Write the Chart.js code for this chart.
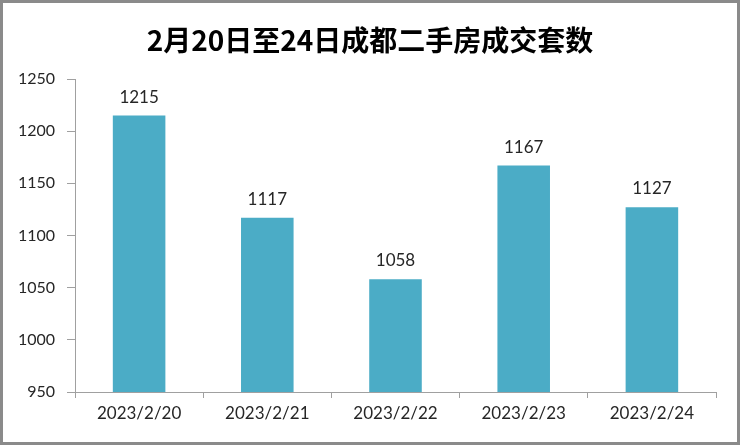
<!DOCTYPE html>
<html>
<head>
<meta charset="utf-8">
<script src="https://cdn.jsdelivr.net/npm/chart.js@4"></script>
<style>
  html, body { margin: 0; padding: 0; background: #fff; }
  #wrap { width: 740px; height: 445px; position: relative; }
</style>
</head>
<body>
<div id="wrap"><canvas id="myChart" width="740" height="445"></canvas></div>
<script>
// data
const titleText = '2月20日至24日成都二手房成交套数'
const categories = ['2023/2/20', '2023/2/21', '2023/2/22', '2023/2/23', '2023/2/24']
const salesCount = [1215, 1117, 1058, 1167, 1127]
const yTicks = [950, 1000, 1050, 1100, 1150, 1200, 1250]

const fontFamily = 'Lato, "Noto Sans", sans-serif'
const axisGray = '#a0a0a0'

// outer frame + title
const framePlugin = {
    id: 'frame',
    afterDraw(chart) {
        const c = chart.ctx
        c.save()
        c.strokeStyle = '#8a8a8a'
        c.lineWidth = 3
        c.strokeRect(1.5, 1.5, chart.width - 3, chart.height - 3)
        c.font = 'bold 28px "Noto Sans CJK SC", sans-serif'
        c.fillStyle = '#000'
        c.textAlign = 'center'
        c.textBaseline = 'middle'
        c.fillText(titleText, 370, 40)
        c.restore()
    }
}

// value labels above bars
const valueLabels = {
    id: 'valueLabels',
    afterDatasetsDraw(chart) {
        const c = chart.ctx
        c.save()
        c.font = '17px ' + fontFamily
        c.fillStyle = '#262626'
        c.textAlign = 'center'
        c.textBaseline = 'bottom'
        chart.getDatasetMeta(0).data.forEach((bar, i) => {
            c.fillText(salesCount[i], bar.x, bar.y - 10)
        })
        c.restore()
    }
}

const ctx = document.getElementById('myChart').getContext('2d')

const myChart = new Chart(ctx, {
    type: 'bar',
    data: {
        labels: categories,
        datasets: [{
            data: salesCount,
            backgroundColor: '#4bacc6',
            borderWidth: 0,
            categoryPercentage: 1,
            barPercentage: 0.41
        }]
    },
    options: {
        responsive: false,
        animation: false,
        layout: { padding: { left: 0, right: 24, top: 79, bottom: 0 } },
        plugins: {
            legend: { display: false },
            tooltip: { enabled: false },
            title: { display: false }
        },
        scales: {
            x: {
                grid: { drawOnChartArea: false, color: axisGray, tickLength: 6, offset: true },
                border: { color: axisGray },
                ticks: { color: '#262626', font: { family: fontFamily, size: 17 }, padding: 5, maxRotation: 0 },
                afterFit(scale) { scale.height = 53 }
            },
            y: {
                min: 950,
                max: 1250,
                afterBuildTicks(scale) { scale.ticks = yTicks.map(v => ({ value: v })) },
                grid: { drawOnChartArea: false, color: axisGray, tickLength: 8 },
                border: { color: axisGray },
                ticks: { color: '#262626', font: { family: fontFamily, size: 16 }, padding: 12, callback: v => String(v) },
                afterFit(scale) { scale.width = 75 }
            }
        }
    },
    plugins: [framePlugin, valueLabels]
})
</script>
</body>
</html>
